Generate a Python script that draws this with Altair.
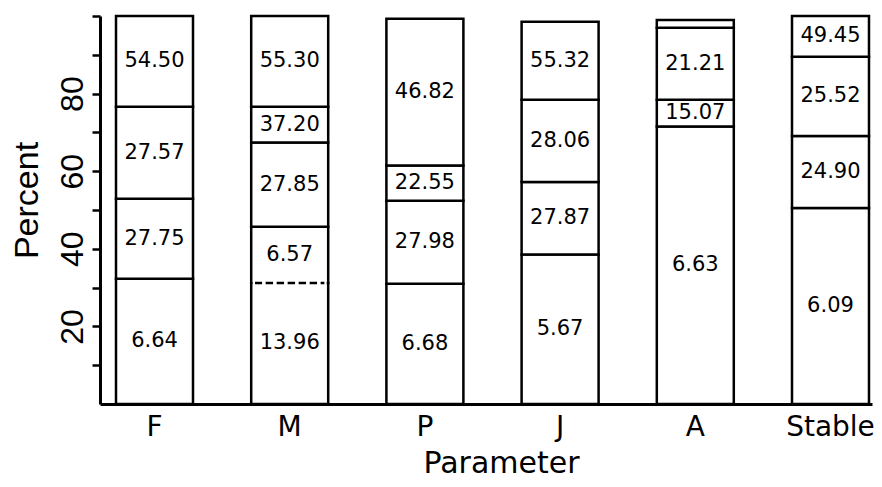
import altair as alt
import pandas as pd

params = ["F", "M", "P", "J", "A", "Stable"]

# cumulative segment tops (percent) for each parameter, bottom to top
tops_F = [32.3, 52.9, 76.6, 100.0]
tops_M = [31.2, 45.7, 67.4, 76.6, 100.0]
tops_P = [31.0, 52.4, 61.5, 99.3]
tops_J = [38.5, 57.2, 78.4, 98.5]
tops_A = [71.5, 78.4, 97.0, 99.0]
tops_S = [50.5, 69.1, 89.5, 100.0]

labels_F = ["6.64", "27.75", "27.57", "54.50"]
labels_M = ["13.96", "6.57", "27.85", "37.20", "55.30"]
labels_P = ["6.68", "27.98", "22.55", "46.82"]
labels_J = ["5.67", "27.87", "28.06", "55.32"]
labels_A = ["6.63", "15.07", "21.21", ""]
labels_S = ["6.09", "24.90", "25.52", "49.45"]

# dashed boundary (parameter, level)
dashed_param = ["M"]
dashed_level = [31.2]

all_tops = [tops_F, tops_M, tops_P, tops_J, tops_A, tops_S]
all_labels = [labels_F, labels_M, labels_P, labels_J, labels_A, labels_S]

rows = []
for p, tops, labs in zip(params, all_tops, all_labels):
    lo = 0.0
    for t, lab in zip(tops, labs):
        rows.append({"param": p, "lo": lo, "hi": t, "mid": (lo + t) / 2, "label": lab})
        lo = t
seg = pd.DataFrame(rows)
dash = pd.DataFrame({"param": dashed_param, "lv": dashed_level})
dash["lo"] = dash["lv"] - 0.5
dash["hi"] = dash["lv"] + 0.5

xscale = alt.Scale(domain=params, paddingInner=0.4305, paddingOuter=0.0703, align=0.842)
yscale = alt.Scale(domain=[0, 100], nice=False, zero=True)

xaxis = alt.Axis(
    title="Parameter", labelAngle=0, ticks=False, domainWidth=3, domainColor="black",
    labelFont="DejaVu Sans", labelFontSize=28, labelColor="black", labelPadding=9,
    titleFont="DejaVu Sans", titleFontSize=30, titleFontWeight="normal", titleColor="black",
    titleX=401, titleY=68, titleAlign="center", titleBaseline="alphabetic", grid=False,
)
yaxis = alt.Axis(
    title="Percent", values=[10, 20, 30, 40, 50, 60, 70, 80, 90, 100],
    labelExpr="(datum.value % 20 == 0 && datum.value < 100) ? datum.label : ''",
    tickSize=8, tickWidth=2.5, tickColor="black", domainWidth=3, domainColor="black",
    labelAngle=270, labelAlign="center", labelBaseline="alphabetic", labelPadding=10,
    labelFont="Liberation Sans", labelFontSize=32, labelColor="black",
    titleFont="Liberation Sans", titleFontSize=34, titleFontWeight="normal", titleColor="black",
    titleAngle=270, titleX=-63, titleY=184, titleAlign="center", titleBaseline="alphabetic",
    grid=False,
)

bars = alt.Chart(seg).mark_bar(fill="white", stroke="black", strokeWidth=2.5).encode(
    x=alt.X("param:N", sort=params, scale=xscale, axis=xaxis),
    y=alt.Y("lo:Q", scale=yscale, axis=yaxis),
    y2="hi:Q",
)

texts = alt.Chart(seg).mark_text(font="DejaVu Sans", fontSize=21, color="black", baseline="middle").encode(
    x=alt.X("param:N", sort=params, scale=xscale),
    y=alt.Y("mid:Q", scale=yscale),
    text="label:N",
)

erase = alt.Chart(dash).mark_bar(fill="white", stroke=None, width={"band": 0.96}).encode(
    x=alt.X("param:N", sort=params, scale=xscale),
    y=alt.Y("lo:Q", scale=yscale),
    y2="hi:Q",
)

dashed = alt.Chart(dash).mark_bar(
    fill="white", fillOpacity=0, stroke="black", strokeWidth=2.5, strokeDash=[7, 4], width={"band": 0.9}
).encode(
    x=alt.X("param:N", sort=params, scale=xscale),
    y=alt.Y("lv:Q", scale=yscale),
    y2="lv:Q",
)

chart = alt.layer(bars, erase, dashed, texts).properties(
    width=772, height=388,
    autosize=alt.AutoSizeParams(type="none"),
    padding={"left": 92, "top": 8, "right": 2, "bottom": 75},
).configure_view(stroke=None)

chart.save("out.html", embed_options={"renderer": "svg", "actions": False})
